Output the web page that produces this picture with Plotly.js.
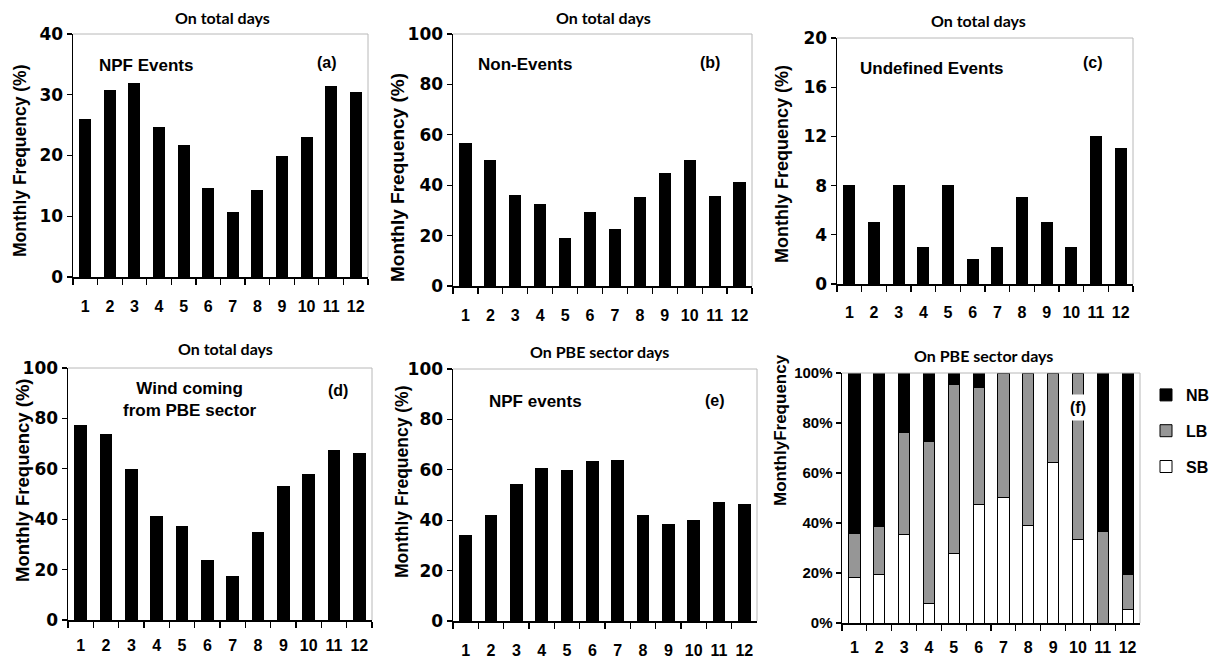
<!DOCTYPE html>
<html>
<head>
<meta charset="utf-8">
<script src="https://cdn.plot.ly/plotly-3.0.1.min.js"></script>
<style>html,body{margin:0;padding:0;background:#fff;}#chart{width:1218px;height:661px;}</style>
</head>
<body>
<div id="chart"></div>
<script>
// ---- data ----
const months = ['1','2','3','4','5','6','7','8','9','10','11','12'];
const npfEvents = [25.9, 30.7, 31.9, 24.6, 21.7, 14.5, 10.6, 14.3, 19.9, 23.0, 31.4, 30.3];
const nonEvents = [56.4, 49.9, 36.1, 32.2, 18.8, 29.2, 22.3, 35.1, 44.6, 49.9, 35.5, 41.0];
const undefinedEvents = [8, 5, 8, 3, 8, 2, 3, 7, 5, 3, 12, 11];
const windPBE = [77.0, 73.8, 59.7, 41.1, 37.0, 23.8, 17.4, 34.7, 53.0, 57.9, 67.1, 66.1];
const npfPBE = [34.0, 41.9, 54.2, 60.7, 59.8, 63.1, 63.6, 41.9, 38.1, 39.8, 47.2, 46.4];
const sbShare = [18.4, 19.3, 35.3, 8.0, 28.0, 47.3, 50.4, 39.0, 64.1, 33.6, 0, 5.3];
const lbShare = [17.3, 19.4, 41.1, 64.8, 67.3, 47.0, 49.6, 61.0, 35.9, 66.4, 36.7, 14.2];
const nbShare = [64.3, 61.3, 23.6, 27.2, 4.7, 5.7, 0, 0, 0, 0, 63.3, 80.5];
const panelTitles = ['On total days','On total days','On total days','On total days','On PBE sector days','On PBE sector days'];
const panelLabels = ['NPF Events','Non-Events','Undefined Events','Wind coming<br>from PBE sector','NPF events',''];
const panelTags = ['(a)','(b)','(c)','(d)','(e)','(f)'];
const yTitles = ['Monthly Frequency (%)','Monthly Frequency (%)','Monthly Frequency (%)','Monthly Frequency (%)','Monthly Frequency (%)','MonthlyFrequency'];

// ---- layout helpers ----
const W = 1218, H = 661;
const px = v => v / W;
const py = v => 1 - v / H;

const panels = [
  {data: npfEvents, box: [73, 368, 34, 277], range: [0, 40], dtick: 10, so: 14,
   title: [222, 17], label: [146, 66], tag: [327, 62], yt: [20, 161, 17.5]},
  {data: nonEvents, box: [453, 752, 34, 286], range: [0, 100], dtick: 20, so: 14,
   title: [603, 17], label: [525, 64], tag: [710, 62], yt: [398, 178, 19]},
  {data: undefinedEvents, box: [837, 1133, 38, 284], range: [0, 20], dtick: 4, so: 13,
   title: [978, 21], label: [932, 68], tag: [1093, 62], yt: [782, 164, 18]},
  {data: windPBE, box: [68, 372, 368, 620], range: [0, 100], dtick: 20, so: 10,
   title: [225, 348], label: [190, 399], tag: [338, 390], yt: [22, 480, 18.5]},
  {data: npfPBE, box: [453, 757, 369, 621], range: [0, 100], dtick: 20, so: 14,
   title: [599, 351], label: [535, 402], tag: [715, 400], yt: [402, 482, 17.5]},
  {data: null, box: [842, 1140, 373, 623], range: [0, 100], dtick: 20, so: 9,
   title: [983, 355], label: null, tag: [1078, 407], yt: [780, 430, 17]}
];

const bold = {weight: 'bold', color: '#000'};
const arial = 'Liberation Sans, Arial, sans-serif';
const traces = [];
const layout = {
  width: W, height: H,
  margin: {l: 0, r: 0, t: 0, b: 0, autoexpand: false},
  paper_bgcolor: '#fff', plot_bgcolor: '#fff',
  barmode: 'stack', bargap: 0.55,
  showlegend: true,
  legend: {x: px(1146), y: py(378), xanchor: 'left', yanchor: 'top',
           traceorder: 'grouped', tracegroupgap: 12, itemwidth: 30,
           bgcolor: 'rgba(0,0,0,0)',
           font: Object.assign({family: arial, size: 16}, bold)},
  annotations: [], shapes: []
};

panels.forEach((p, i) => {
  const n = i + 1;
  const xa = 'xaxis' + (n === 1 ? '' : n), ya = 'yaxis' + (n === 1 ? '' : n);
  const xr = 'x' + (n === 1 ? '' : n), yr = 'y' + (n === 1 ? '' : n);
  layout[xa] = {
    domain: [px(p.box[0]), px(p.box[1])], anchor: yr, type: 'category',
    showline: true, linecolor: '#000', linewidth: 1.5,
    ticks: 'outside', tickson: 'boundaries', ticklen: 6, tickcolor: '#000', tickwidth: 1.2,
    ticklabelstandoff: p.so, tickangle: 0,
    tickfont: Object.assign({family: arial, size: 16}, bold),
    showgrid: false, zeroline: false, fixedrange: true
  };
  layout[ya] = {
    domain: [py(p.box[3]), py(p.box[2])], anchor: xr,
    range: p.range, dtick: p.dtick, tick0: 0,
    showline: true, linecolor: '#000', linewidth: 1.5,
    ticks: 'outside', ticklen: 5, tickcolor: '#000', tickwidth: 1.2,
    tickfont: i === 5 ? Object.assign({family: arial, size: 15}, bold)
                      : Object.assign({family: 'DejaVu Sans, sans-serif', size: 17}, bold),
    ticksuffix: i === 5 ? '%' : '',
    showgrid: false, zeroline: false, fixedrange: true
  };
  // light frame on top and right
  layout.shapes.push({type: 'line', xref: xr + ' domain', yref: yr + ' domain',
    x0: 0, x1: 1, y0: 1, y1: 1, line: {color: '#b8b8b8', width: 1}});
  layout.shapes.push({type: 'line', xref: xr + ' domain', yref: yr + ' domain',
    x0: 1, x1: 1, y0: 0, y1: 1, line: {color: '#b8b8b8', width: 1}});

  if (p.data) {
    traces.push({type: 'bar', x: months, y: p.data, xaxis: xr, yaxis: yr,
      marker: {color: '#000', line: {color: '#000', width: 1}}, showlegend: false,
      hoverinfo: 'x+y'});
  }

  layout.annotations.push({xref: 'paper', yref: 'paper', x: px(p.title[0]), y: py(p.title[1]),
    text: panelTitles[i], showarrow: false, xanchor: 'center', yanchor: 'middle',
    font: Object.assign({family: 'Lato, sans-serif', size: 16}, bold)});
  if (p.label) {
    layout.annotations.push({xref: 'paper', yref: 'paper', x: px(p.label[0]), y: py(p.label[1]),
      text: panelLabels[i], showarrow: false, xanchor: 'center', yanchor: 'middle',
      font: Object.assign({family: arial, size: 17}, bold)});
  }
  layout.annotations.push({xref: 'paper', yref: 'paper', x: px(p.tag[0]), y: py(p.tag[1]),
    text: panelTags[i], showarrow: false, xanchor: 'center', yanchor: 'middle',
    bgcolor: i === 5 ? '#fff' : 'rgba(0,0,0,0)', borderpad: i === 5 ? 4 : 0,
    font: Object.assign({family: arial, size: 16}, bold)});
  layout.annotations.push({xref: 'paper', yref: 'paper', x: px(p.yt[0]), y: py(p.yt[1]),
    text: yTitles[i], showarrow: false, textangle: -90, xanchor: 'center', yanchor: 'middle',
    font: Object.assign({family: arial, size: p.yt[2]}, bold)});
});

// stacked panel (f)
const barLine = {color: '#000', width: 1};
traces.push({type: 'bar', name: 'SB', legendgroup: 'SB', legendrank: 3, x: months, y: sbShare,
  xaxis: 'x6', yaxis: 'y6', marker: {color: '#ffffff', line: barLine}});
traces.push({type: 'bar', name: 'LB', legendgroup: 'LB', legendrank: 2, x: months, y: lbShare,
  xaxis: 'x6', yaxis: 'y6', marker: {color: '#969696', line: barLine}});
traces.push({type: 'bar', name: 'NB', legendgroup: 'NB', legendrank: 1, x: months, y: nbShare,
  xaxis: 'x6', yaxis: 'y6', marker: {color: '#000000', line: barLine}});

Plotly.newPlot('chart', traces, layout, {displayModeBar: false, staticPlot: true});
</script>
</body>
</html>
